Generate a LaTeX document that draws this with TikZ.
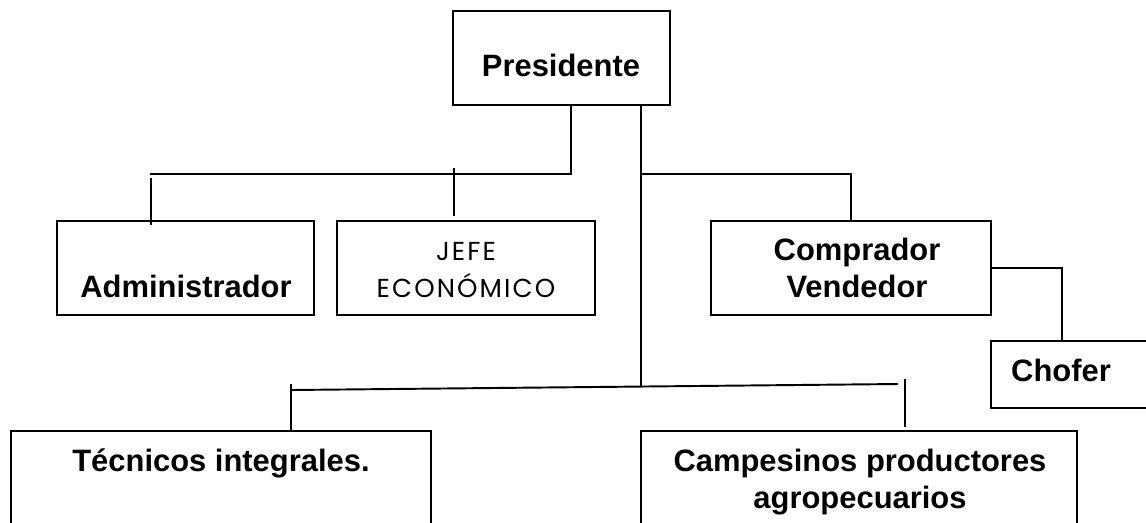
\documentclass[tikz,border=0pt]{standalone}
\usepackage{fontspec}
\setmainfont{Liberation Sans}
\newfontfamily\jefefont[LetterSpace=8]{Poppins}
\usetikzlibrary{positioning}

\begin{document}
\begin{tikzpicture}[x=0.02cm, y=-0.02cm]
  \tikzset{
    box/.style={draw, rectangle, line width=1.1pt, inner sep=0pt},
    name text/.style={anchor=base, inner sep=0pt, align=center,
      font=\fontsize{17.6}{20.5}\selectfont\bfseries},
    thin text/.style={anchor=base, inner sep=0pt, align=center,
      font=\jefefont\fontsize{14.8}{20.5}\selectfont},
    link/.style={line width=1.1pt},
    tick/.style={line width=0.8pt}
  }
  \useasboundingbox (0,0) rectangle (1146,522);
  \node[box, minimum width=4.34cm, minimum height=1.88cm] (Pres) at (561.5,58) {};
  \node[box, minimum width=5.14cm, minimum height=1.88cm] (Adm) at (185.5,268) {};
  \node[box, minimum width=5.16cm, minimum height=1.88cm] (Jefe) at (466,268) {};
  \node[box, minimum width=5.60cm, minimum height=1.88cm] (Comp) at (851,268) {};
  \node[box, minimum width=3.18cm, minimum height=1.34cm] (Chofer) at (1070.5,374.5) {};
  \node[box, minimum width=8.40cm, minimum height=2.18cm] (Tec) at (221,485.5) {};
  \node[box, minimum width=8.72cm, minimum height=2.18cm] (Camp) at (859,485.5) {};

  \node[name text] (Pres-t) at (561,76) {Presidente};
  \node[name text] (Adm-t) at (186,297) {Administrador};
  \node[thin text] (Jefe-t) at (466,297) {JEFE\\ECONÓMICO};
  \node[name text] (Comp-t) at (857,297) {Comprador\\Vendedor};
  \node[name text] (Chofer-t) at (1061,381) {Chofer};
  \node[name text] (Tec-t) at (221,471) {Técnicos integrales.};
  \node[name text] (Camp-t) at (860,508) {Campesinos productores\\agropecuarios};

  \coordinate (Bus-1) at (571,174);
  \coordinate (Bus-2) at (641,174);
  \coordinate (Bus-L) at (150,174);
  \coordinate (Bus-R) at (851,174);
  \coordinate (Adm-t1) at (151,178);
  \coordinate (Adm-t2) at (151,225);
  \coordinate (Jefe-t1) at (454,168);
  \coordinate (Jefe-t2) at (454,216);
  \coordinate (Low-L) at (291,390);
  \coordinate (Low-R) at (898,384);
  \coordinate (Low-M) at (641,386.5);
  \coordinate (Camp-t1) at (905,379);
  \coordinate (Camp-t2) at (905,427);
  \coordinate (Tec-t1) at (291,384);
  \coordinate (Chofer-c) at (1062,268);

  \draw[link] (Bus-1 |- Pres.south) -- (Bus-1) -- (Bus-L);
  \draw[link] (Adm-t1) -- (Adm-t2);
  \draw[link] (Jefe-t1) -- (Jefe-t2);
  \draw[link] (Bus-2 |- Pres.south) -- (Low-M);
  \draw[link] (Bus-2) -- (Bus-R) -- (Bus-R |- Comp.north);
  \draw[link] (Chofer-c -| Comp.east) -- (Chofer-c) -- (Chofer-c |- Chofer.north);
  \draw[link] (Low-L) -- (Low-R);
  \draw[tick] (Tec-t1) -- (Tec-t1 |- Tec.north);
  \draw[tick] (Camp-t1) -- (Camp-t2);
\end{tikzpicture}
\end{document}
